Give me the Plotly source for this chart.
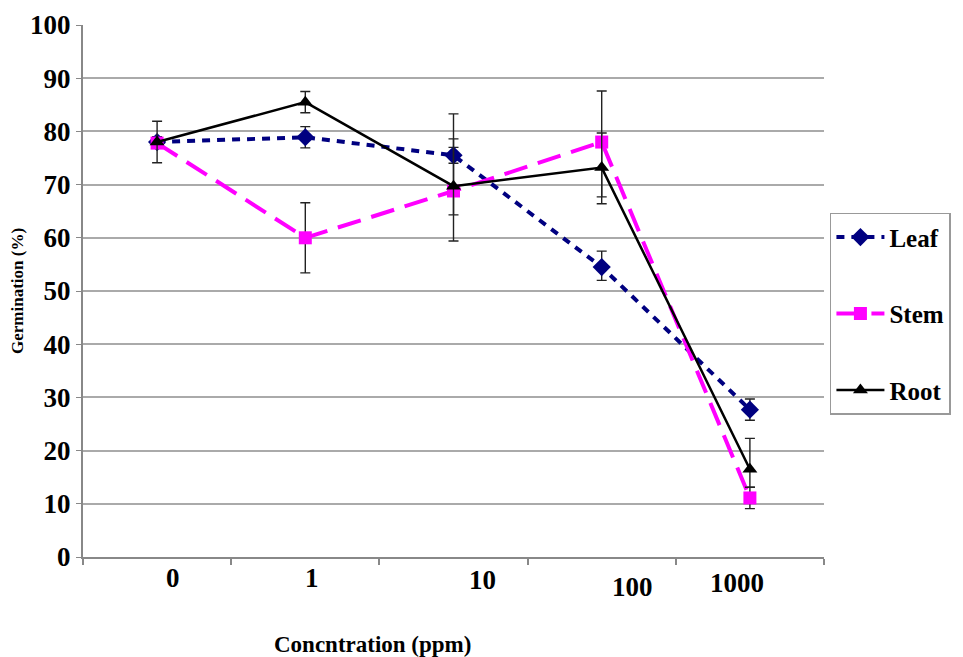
import plotly.graph_objects as go

# ---- data ----
categories = ["0", "1", "10", "100", "1000"]
tick_labels = ["0", "1", "10", "100", "1000"]

leaf = [78.0, 78.9, 75.5, 54.5, 27.7]
leaf_err_plus = [1.0, 2.0, 1.5, 3.0, 2.0]
leaf_err_minus = [1.0, 2.0, 1.5, 2.5, 2.0]

stem = [77.8, 60.0, 68.8, 78.0, 11.1]
stem_err_plus = [1.0, 6.6, 14.5, 9.6, 2.0]
stem_err_minus = [1.0, 6.6, 9.4, 11.6, 2.0]

root = [78.0, 85.5, 69.7, 73.2, 16.5]
root_err_plus = [3.9, 2.0, 8.9, 6.5, 5.8]
root_err_minus = [3.9, 2.0, 5.4, 5.5, 3.4]

serif = "Liberation Serif"

fig = go.Figure()

def add(name, y, ep, em, color, dash, width, symbol, msize, group):
    fig.add_trace(go.Scatter(
        x=categories, y=y, name=name, mode="lines+markers",
        legendgroup=group,
        line=dict(color=color, width=width, dash=dash),
        marker=dict(symbol=symbol, size=msize, color=color),
        error_y=dict(type="data", symmetric=False, array=ep, arrayminus=em,
                     color="#222222", thickness=1.4, width=5),
    ))

add("Leaf", leaf, leaf_err_plus, leaf_err_minus, "#000080", "8px,7px", 4, "diamond", 14, "g1")
add("Stem", stem, stem_err_plus, stem_err_minus, "#ff00ff", "24px,11px", 4, "square", 13, "g2")
add("Root", root, root_err_plus, root_err_minus, "#000000", "solid", 2.5, "triangle-up", 13, "g3")

# custom-positioned category labels (as in original)
label_xshift = [16, 7, 29, 31, -13]
label_yshift = [-21, -21, -23, -30, -26]
for i, (lab, dx, dy) in enumerate(zip(tick_labels, label_xshift, label_yshift)):
    fig.add_annotation(x=i, y=0, xref="x", yref="y", text="<b>" + lab + "</b>", showarrow=False,
                       xshift=dx, yshift=dy,
                       font=dict(family=serif, size=27, color="#000000"))

fig.add_annotation(x=(372 - 83) / 741, y=(557 - 645) / 532, xref="paper", yref="paper",
                   xanchor="center", yanchor="middle",
                   text="<b>Concntration (ppm)</b>",
                   showarrow=False, font=dict(family=serif, size=23, color="#000"))

# page body has an 8px margin, so the figure is sized/offset to compensate
fig.update_layout(
    width=955, height=649,
    margin=dict(l=75, r=139, t=17, b=100, autoexpand=False),
    paper_bgcolor="white", plot_bgcolor="white",
    font=dict(family=serif, color="#000000"),
    showlegend=True,
    legend=dict(
        x=1.008, y=0.647, xanchor="left", yanchor="top",
        bordercolor="#999999", borderwidth=1.5,
        font=dict(family=serif, size=25, color="#000", weight="bold"),
        tracegroupgap=41, itemwidth=48,
    ),
    xaxis=dict(
        type="category", range=[-0.5, 4.5], automargin=False,
        showticklabels=False, showgrid=False,
        tickson="boundaries", ticks="outside", ticklen=6, tickcolor="#888888", tickwidth=1.5,
        showline=True, linecolor="#888888", linewidth=2,
        zeroline=False,
    ),
    yaxis=dict(
        range=[0, 100], dtick=10, automargin=False,
        showgrid=True, gridcolor="#aaaaaa", gridwidth=2,
        ticks="outside", ticklen=5, tickcolor="#888888",
        showline=True, linecolor="#888888", linewidth=2,
        zeroline=False,
        tickfont=dict(family=serif, size=27, color="#000", weight="bold"),
        title=dict(text="<b>Germination (%)</b>", font=dict(family=serif, size=17, color="#000"),
                   standoff=12),
    ),
)

fig.write_html("out.html")
